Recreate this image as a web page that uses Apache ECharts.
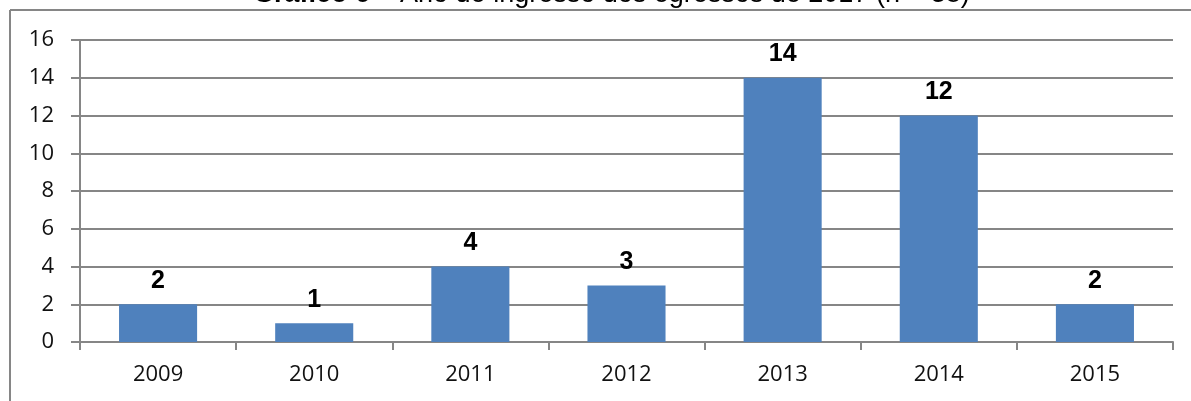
<!DOCTYPE html>
<html>
<head>
<meta charset="utf-8">
<style>
html,body{margin:0;padding:0;background:#fff;}
#c{width:1191px;height:401px;}
</style>
<script src="https://cdn.jsdelivr.net/npm/echarts@6/dist/echarts.min.js"></script>
</head>
<body>
<div id="c"></div>
<script>
const categories = ['2009','2010','2011','2012','2013','2014','2015'];
const values = [2, 1, 4, 3, 14, 12, 2];
const titleBold = 'Gráfico 6';
const titleRest = ' – Ano de ingresso dos egressos de 2017 (n = 38)';

const chart = echarts.init(document.getElementById('c'), null, {renderer:'canvas'});
const gray = '#868686';
chart.setOption({
  animation:false,
  backgroundColor:'#fff',
  title:{
    text:'{b|' + titleBold + '}{r|' + titleRest + '}',
    left:248,
    top:-24,
    textStyle:{
      fontWeight:'normal',
      rich:{
        b:{fontFamily:'Liberation Sans',fontSize:27,fontWeight:'bold',color:'#000'},
        r:{fontFamily:'Liberation Sans',fontSize:27,fontWeight:'normal',color:'#000'}
      }
    }
  },
  graphic:[
    {type:'line',shape:{x1:10,y1:10,x2:1191,y2:10},style:{stroke:gray,lineWidth:2}},
    {type:'line',shape:{x1:10,y1:10,x2:10,y2:401},style:{stroke:gray,lineWidth:2}}
  ],
  grid:{left:80,right:18,top:40,bottom:59},
  xAxis:{
    type:'category',
    data:categories,
    axisLine:{lineStyle:{color:gray,width:2}},
    axisTick:{show:true,alignWithLabel:false,length:8,lineStyle:{color:gray,width:2}},
    axisLabel:{fontFamily:'Open Sans',fontSize:22,color:'#111',margin:22}
  },
  yAxis:{
    type:'value',
    min:0,max:16,interval:2,
    axisLine:{show:true,lineStyle:{color:gray,width:2}},
    axisTick:{show:true,length:9,lineStyle:{color:gray,width:2}},
    axisLabel:{fontFamily:'Open Sans',fontSize:22,color:'#111',margin:26},
    splitLine:{show:true,lineStyle:{color:gray,width:2}}
  },
  series:[{
    type:'bar',
    data:values,
    barWidth:'50%',
    itemStyle:{color:'#4F81BD'},
    label:{show:true,position:'top',distance:11,fontFamily:'Liberation Sans',fontSize:25,fontWeight:'bold',color:'#000'}
  }]
});
</script>
</body>
</html>
